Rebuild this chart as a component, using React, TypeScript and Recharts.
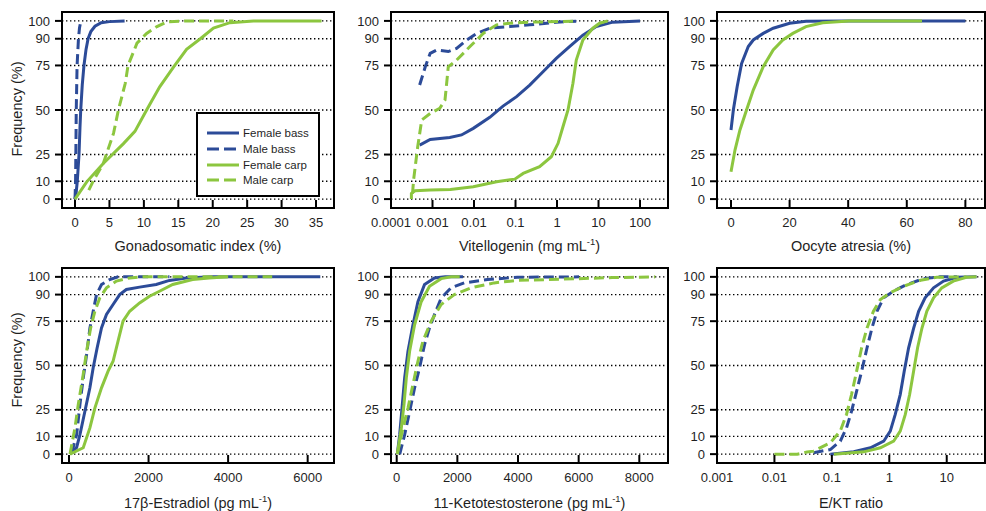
import { LineChart, Line, XAxis, YAxis, CartesianGrid, ReferenceArea } from 'recharts';
import type { ReactNode } from 'react';

// Curvas de frecuencia acumulada (x = valor, y = % de peces)
type Pt = [number, number];

const BASS = '#2c4b98';
const CARP = '#8cc63f';
const INK = '#1f1f1f';
const FONT = '"Liberation Sans", Arial, Helvetica, sans-serif';

const FREQ_TICKS = [0, 10, 25, 50, 75, 90, 100];

// Gonadosomatic index (%)
const GSI_TICKS = [0, 5, 10, 15, 20, 25, 30, 35];
const gsiFemaleBass: Pt[] = [[0, 0], [0.15, 3], [0.33, 10], [0.58, 25], [0.72, 40], [0.83, 50], [1.05, 64], [1.3, 75], [1.6, 84], [1.9, 90], [2.3, 94], [2.9, 97], [3.8, 99], [5.0, 99.6], [7.2, 100]];
const gsiMaleBass: Pt[] = [[0, 0], [0.08, 10], [0.12, 25], [0.18, 50], [0.3, 75], [0.5, 90], [0.65, 96], [0.85, 100]];
const gsiFemaleCarp: Pt[] = [[0, 0], [1.7, 9.7], [4.1, 20], [7.0, 31], [8.7, 38], [10.4, 50], [12.3, 63], [14.3, 74], [16.2, 84], [18.2, 90], [20.1, 96], [22.5, 99], [25.9, 100], [35.8, 100]];
const gsiMaleCarp: Pt[] = [[2.0, 5], [2.7, 10.5], [4.1, 20], [5.6, 37], [6.3, 50], [7.3, 65], [7.7, 75], [9.0, 87.5], [10.4, 93], [11.9, 96.8], [13.3, 99.4], [16, 100], [23, 100]];

// Vitellogenin (mg/mL), escala log
const VTG_TICKS = [0.0001, 0.001, 0.01, 0.1, 1, 10, 100];
const vtgFemaleBass: Pt[] = [[0.00049, 30.3], [0.00088, 33.5], [0.0026, 34.6], [0.005, 36], [0.0096, 39.7], [0.024, 45.9], [0.05, 52.2], [0.106, 57.5], [0.22, 64], [0.46, 71.5], [0.96, 79], [2.0, 85.6], [4.2, 92], [8.8, 96.8], [22, 99.3], [100, 100]];
const vtgMaleBass: Pt[] = [[0.00049, 64], [0.00067, 74.3], [0.00088, 81.8], [0.00126, 83.7], [0.0024, 82.8], [0.0038, 84.6], [0.0067, 89.3], [0.0116, 93], [0.024, 95.9], [0.073, 96.8], [0.22, 97.8], [0.96, 99.3], [2.9, 99.8]];
const vtgFemaleCarp: Pt[] = [[0.00031, 0], [0.00031, 3.2], [0.00038, 4.7], [0.00088, 5.1], [0.0027, 5.4], [0.0096, 6.9], [0.035, 9.7], [0.096, 11.2], [0.153, 14.4], [0.38, 18.2], [0.73, 23.8], [1.06, 31.3], [1.39, 40.6], [1.84, 50], [2.42, 65], [2.91, 78], [4.2, 89.3], [7.3, 95.9], [10.6, 98.7], [16.7, 100]];
const vtgMaleCarp: Pt[] = [[0.00033, 3], [0.00035, 10.7], [0.00044, 29.4], [0.00055, 44.4], [0.00088, 48.1], [0.0015, 51], [0.002, 55.6], [0.0024, 74.3], [0.0038, 78], [0.008, 85.6], [0.0167, 93], [0.035, 97.8], [0.073, 98.7], [0.22, 99.3], [2.9, 99.8]];

// Oocyte atresia (%), solo hembras
const ATR_TICKS = [0, 20, 40, 60, 80];
const atrFemaleBass: Pt[] = [[0, 38.8], [0.8, 50], [2.1, 63], [3.6, 76], [5.9, 85.6], [7.6, 89.3], [11, 93], [14.4, 95.9], [20, 98.7], [25.6, 99.8], [40.3, 100], [80, 100]];
const atrFemaleCarp: Pt[] = [[0, 15.4], [1.36, 27.5], [3.05, 38.8], [5.3, 50], [7.6, 61.2], [11, 74.3], [14.4, 83.7], [17.7, 89.3], [21.1, 93], [25.6, 96.8], [31.3, 99], [40.3, 100], [65.2, 100]];

// 17β-Estradiol (pg/mL)
const E2_TICKS = [0, 2000, 4000, 6000];
const e2FemaleBass: Pt[] = [[25, 0], [192, 3.8], [275, 11], [400, 24.2], [525, 37.4], [608, 48.7], [708, 60], [817, 71.2], [942, 78.8], [1108, 84.4], [1275, 90], [1442, 92.9], [1775, 94.2], [2192, 95.7], [2525, 98], [2942, 99.4], [3600, 100], [6317, 100]];
const e2MaleBass: Pt[] = [[67, 0.8], [192, 11], [275, 28], [358, 43], [442, 56], [525, 71], [608, 80.6], [692, 90], [817, 95.7], [1025, 98.5], [1233, 100], [2525, 100]];
const e2FemaleCarp: Pt[] = [[25, 0], [358, 3.6], [525, 14.8], [650, 26], [817, 37.4], [983, 46.8], [1108, 52.4], [1233, 63.7], [1358, 75], [1525, 80.6], [1775, 85.3], [2025, 89.1], [2275, 91.9], [2608, 95.7], [3108, 98.5], [3525, 99.4], [4000, 100]];
const e2MaleCarp: Pt[] = [[25, 0], [150, 14.8], [233, 28], [358, 45], [442, 58], [542, 71], [650, 80.6], [775, 88.2], [942, 93.8], [1192, 97.6], [1525, 99.4], [1850, 100], [5108, 100]];

// 11-Ketotestosterone (pg/mL)
const KT_TICKS = [0, 2000, 4000, 6000, 8000];
const ktFemaleBass: Pt[] = [[20, 0], [98, 11], [175, 26], [262, 43], [372, 58], [536, 73], [700, 86], [918, 95.7], [1246, 99.4], [1600, 100], [2186, 100]];
const ktMaleBass: Pt[] = [[100, 0], [153, 3.6], [262, 11], [426, 24], [590, 37.4], [754, 48.7], [918, 61.8], [1082, 71.2], [1246, 78.8], [1465, 88], [1793, 93.8], [2230, 96.6], [2995, 98.5], [3979, 99.8], [6012, 100]];
const ktFemaleCarp: Pt[] = [[20, 0], [153, 14.8], [240, 28], [317, 43], [426, 58], [590, 73], [809, 86], [1082, 94.7], [1465, 99], [1800, 100], [2077, 100]];
const ktMaleCarp: Pt[] = [[20, 0], [208, 14.8], [372, 26], [536, 39.3], [700, 52.4], [863, 63.7], [1137, 75], [1465, 84.4], [1902, 90], [2448, 93.8], [3213, 96.6], [3979, 98], [5465, 98.7], [7105, 99.6], [8525, 100]];

// E/KT ratio, escala log
const EKT_TICKS = [0.001, 0.01, 0.1, 1, 10];
const ektFemaleBass: Pt[] = [[0.094, 0], [0.24, 1.3], [0.47, 3.6], [0.8, 7.3], [1.04, 13], [1.27, 22.4], [1.55, 33.6], [1.82, 46.8], [2.17, 60], [2.65, 71], [3.24, 80.6], [4.2, 88.2], [5.9, 93.8], [8.8, 97.6], [15, 99.8], [33, 100]];
const ektMaleBass: Pt[] = [[0.048, 0.8], [0.094, 2.6], [0.14, 7.3], [0.18, 14.8], [0.22, 24.2], [0.27, 35.5], [0.33, 46.8], [0.41, 60], [0.5, 71.2], [0.61, 80.6], [0.8, 88.2], [1.19, 92], [2.03, 95.7], [3.95, 99], [7.7, 100], [15, 100]];
const ektFemaleCarp: Pt[] = [[0.108, 0], [0.36, 1.3], [0.7, 3.6], [1.19, 7.3], [1.55, 13], [1.9, 22.4], [2.26, 33.6], [2.65, 46.8], [3.11, 60], [3.7, 71], [4.5, 80.6], [5.9, 88.2], [8.2, 93.8], [13, 97.6], [22, 99.8], [33, 100]];
const ektMaleCarp: Pt[] = [[0.01, 0], [0.025, 0], [0.037, 1.2], [0.048, 1.7], [0.094, 6.4], [0.14, 13], [0.18, 22.4], [0.22, 33.6], [0.27, 46.8], [0.33, 60], [0.41, 71.2], [0.53, 80.6], [0.7, 87.2], [1.04, 91], [1.77, 94.7], [3.5, 98.1], [6.7, 99.8], [22, 100]];

interface Series {
  key: string;
  data: Pt[];
  color: string;
  dashed?: boolean;
}

const LEGEND = [
  { label: 'Female bass', color: BASS, dashed: false },
  { label: 'Male bass', color: BASS, dashed: true },
  { label: 'Female carp', color: CARP, dashed: false },
  { label: 'Male carp', color: CARP, dashed: true },
];

function XTick(props: any) {
  const { x, y, payload, fmt } = props;
  return (
    <g>
      <line x1={x} x2={x} y1={y} y2={y - 8} stroke="#000" strokeWidth={2} />
      <text x={x} y={y + 14} dy="0.355em" textAnchor="middle" fill={INK} fontSize={13} fontFamily={FONT}>
        {fmt(payload.value)}
      </text>
    </g>
  );
}

interface PanelProps {
  left: number;
  top: number;
  w: number;
  h: number;
  xDomain: [number, number];
  xTicks: number[];
  log?: boolean;
  series: Series[];
  xTitle: ReactNode;
  titleY: number;
}

function Panel({ left, top, w, h, xDomain, xTicks, log = false, series, xTitle, titleY }: PanelProps) {
  const fmt = (v: number) => String(v);
  return (
    <>
      <div style={{ position: 'absolute', left: left - 62, top: top - 2 }}>
        <LineChart width={62 + w + 6} height={2 + h + 40} margin={{ top: 2, right: 6, left: 0, bottom: 0 }}>
          <CartesianGrid vertical={false} stroke="#000" strokeDasharray="1.4 2.6" strokeWidth={1.4} />
          <XAxis
            type="number"
            dataKey="x"
            scale={log ? 'log' : 'linear'}
            domain={xDomain}
            ticks={xTicks}
            interval={0}
            allowDataOverflow
            axisLine={false}
            tickLine={false}
            tickSize={0}
            tickMargin={0}
            height={40}
            tick={(p: any) => <XTick {...p} fmt={fmt} />}
          />
          <YAxis
            type="number"
            domain={[-5, 105]}
            ticks={FREQ_TICKS}
            interval={0}
            allowDataOverflow
            width={62}
            axisLine={false}
            tickLine={{ stroke: '#000', strokeWidth: 2 }}
            tickSize={7}
            tickMargin={5}
            tick={{ fill: INK, fontSize: 13, fontFamily: FONT }}
          />
          <YAxis
            yAxisId="r"
            orientation="right"
            mirror
            width={0}
            type="number"
            domain={[-5, 105]}
            ticks={FREQ_TICKS}
            interval={0}
            allowDataOverflow
            axisLine={false}
            tick={false}
            tickLine={{ stroke: '#000', strokeWidth: 2 }}
            tickSize={7}
          />
          <ReferenceArea
            x1={xDomain[0]}
            x2={xDomain[1]}
            y1={-5}
            y2={105}
            fill="none"
            stroke="#000"
            strokeWidth={2}
            ifOverflow="visible"
          />
          {series.map((s) => (
            <Line
              key={s.key}
              data={s.data.map(([x, y]) => ({ x, y }))}
              dataKey="y"
              type="linear"
              stroke={s.color}
              strokeWidth={3}
              strokeDasharray={s.dashed ? '10 5' : undefined}
              dot={false}
              activeDot={false}
              isAnimationActive={false}
            />
          ))}
        </LineChart>
      </div>
      <div
        style={{
          position: 'absolute',
          left,
          width: w,
          top: titleY - 9,
          height: 18,
          lineHeight: '18px',
          textAlign: 'center',
          fontFamily: FONT,
          fontSize: 14.5,
          color: INK,
          whiteSpace: 'nowrap',
        }}
      >
        {xTitle}
      </div>
    </>
  );
}

function YTitle({ cy }: { cy: number }) {
  return (
    <div
      style={{
        position: 'absolute',
        left: 17 - 70,
        top: cy - 9,
        width: 140,
        height: 18,
        lineHeight: '18px',
        textAlign: 'center',
        transform: 'rotate(-90deg)',
        fontFamily: FONT,
        fontSize: 14.5,
        color: INK,
        whiteSpace: 'nowrap',
      }}
    >
      Frequency (%)
    </div>
  );
}

function LegendBox() {
  return (
    <div
      style={{
        position: 'absolute',
        left: 196,
        top: 112,
        width: 124,
        height: 85,
        boxSizing: 'border-box',
        border: '2px solid #000',
        background: '#fff',
      }}
    >
      {LEGEND.map((e, i) => (
        <div key={e.label} style={{ position: 'absolute', left: 9, top: 11 + i * 15.8, height: 16, display: 'flex', alignItems: 'center' }}>
          <svg width={32} height={6}>
            <line x1={0} x2={32} y1={3} y2={3} stroke={e.color} strokeWidth={3} strokeDasharray={e.dashed ? '12 5' : undefined} />
          </svg>
          <span style={{ marginLeft: 4, fontFamily: FONT, fontSize: 11.5, color: INK, whiteSpace: 'nowrap' }}>{e.label}</span>
        </div>
      ))}
    </div>
  );
}

const sup = (t: string) => <sup style={{ fontSize: '0.65em', lineHeight: 0 }}>{t}</sup>;

export default function App() {
  return (
    <div style={{ position: 'absolute', left: 0, top: 0, width: 986, height: 511, overflow: 'hidden', background: '#fff' }}>
      <Panel
        left={62} top={12} w={272} h={196} titleY={246}
        xDomain={[-1.89, 37.61]} xTicks={GSI_TICKS}
        series={[
          { key: 'fb', data: gsiFemaleBass, color: BASS },
          { key: 'mb', data: gsiMaleBass, color: BASS, dashed: true },
          { key: 'fc', data: gsiFemaleCarp, color: CARP },
          { key: 'mc', data: gsiMaleCarp, color: CARP, dashed: true },
        ]}
        xTitle="Gonadosomatic index (%)"
      />
      <Panel
        left={391} top={12} w={277} h={196} titleY={246}
        xDomain={[0.0001, 472]} xTicks={VTG_TICKS} log
        series={[
          { key: 'fb', data: vtgFemaleBass, color: BASS },
          { key: 'mb', data: vtgMaleBass, color: BASS, dashed: true },
          { key: 'fc', data: vtgFemaleCarp, color: CARP },
          { key: 'mc', data: vtgMaleCarp, color: CARP, dashed: true },
        ]}
        xTitle={<>Vitellogenin (mg mL{sup('-1')})</>}
      />
      <Panel
        left={717} top={12} w={268} h={196} titleY={246}
        xDomain={[-4.78, 86.7]} xTicks={ATR_TICKS}
        series={[
          { key: 'fb', data: atrFemaleBass, color: BASS },
          { key: 'fc', data: atrFemaleCarp, color: CARP },
        ]}
        xTitle="Oocyte atresia (%)"
      />
      <Panel
        left={62} top={268} w={272} h={195} titleY={503}
        xDomain={[-176, 6662]} xTicks={E2_TICKS}
        series={[
          { key: 'fb', data: e2FemaleBass, color: BASS },
          { key: 'mb', data: e2MaleBass, color: BASS, dashed: true },
          { key: 'fc', data: e2FemaleCarp, color: CARP },
          { key: 'mc', data: e2MaleCarp, color: CARP, dashed: true },
        ]}
        xTitle={<>17β-Estradiol (pg mL{sup('-1')})</>}
      />
      <Panel
        left={391} top={268} w={277} h={195} titleY={503}
        xDomain={[-188, 8946]} xTicks={KT_TICKS}
        series={[
          { key: 'fb', data: ktFemaleBass, color: BASS },
          { key: 'mb', data: ktMaleBass, color: BASS, dashed: true },
          { key: 'fc', data: ktFemaleCarp, color: CARP },
          { key: 'mc', data: ktMaleCarp, color: CARP, dashed: true },
        ]}
        xTitle={<>11-Ketotestosterone (pg mL{sup('-1')})</>}
      />
      <Panel
        left={717} top={268} w={268} h={195} titleY={503}
        xDomain={[0.001, 46.4]} xTicks={EKT_TICKS} log
        series={[
          { key: 'fb', data: ektFemaleBass, color: BASS },
          { key: 'mb', data: ektMaleBass, color: BASS, dashed: true },
          { key: 'fc', data: ektFemaleCarp, color: CARP },
          { key: 'mc', data: ektMaleCarp, color: CARP, dashed: true },
        ]}
        xTitle="E/KT ratio"
      />
      <YTitle cy={109} />
      <YTitle cy={360} />
      <LegendBox />
    </div>
  );
}
